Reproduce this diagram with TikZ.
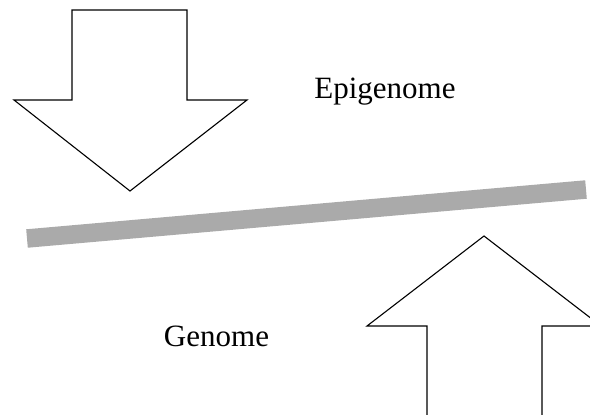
\documentclass[tikz,border=0pt]{standalone}
\usepackage{fontspec}
\setmainfont{Liberation Serif}
\usepackage{tikz}
\usetikzlibrary{positioning}

\definecolor{barGray}{HTML}{AAAAAA}

\begin{document}
\begin{tikzpicture}[x=1pt, y=-1pt,
  bigarrow/.style={draw=black, line width=1.1pt, fill=white, line join=miter},
  %
  layer/.style={draw=barGray, line width=18.5pt, line cap=butt},
  %
  label/.style={font=\fontsize{31}{37}\selectfont, anchor=base, inner sep=0pt}
  ]

  \clip (0,0) rectangle (590,415);
  \useasboundingbox (0,0) rectangle (590,415);

  % arrow coming down from the top
  \draw [bigarrow] (72,10) -- (187,10) -- (187,100) -- (247,100)
    -- (130,191) -- (14,100) -- (72,100) -- cycle;

  % arrow coming up from the bottom (runs off the page)
  \draw [bigarrow] (427,425) -- (427,326) -- (367,326) -- (484,236)
    -- (601,326) -- (542,326) -- (542,425);

  % the grey bar in between
  \coordinate (barL) at (27,238.5);
  \coordinate (barR) at (586,189.5);
  \draw [layer] (barL) -- (barR);

  \node [label] (epigenome) at (385,98) {Epigenome};
  \node [label] (genome) at (216.5,346) {Genome};

\end{tikzpicture}
\end{document}
